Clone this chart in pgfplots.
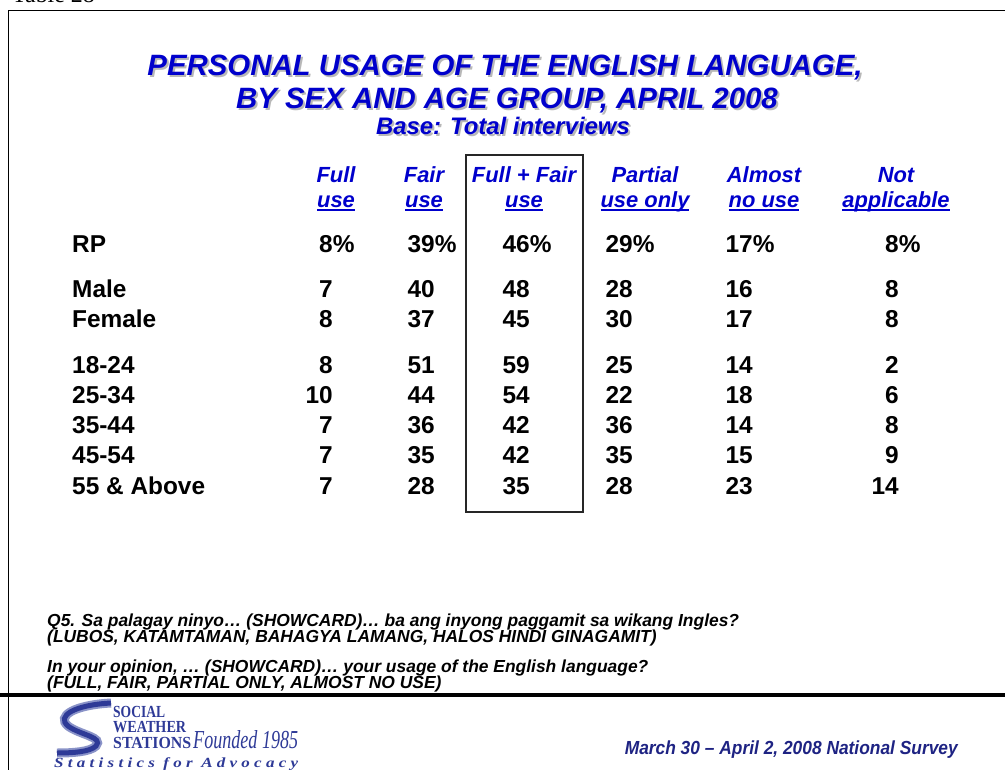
\documentclass[border=0pt]{standalone}
\usepackage{fontspec}
\setmainfont{Liberation Sans}
\newfontfamily\seriffont{Liberation Serif}
\newfontfamily\serifsp[LetterSpace=25]{Liberation Serif}
\usepackage{graphicx}
\usepackage{pgfplots}
\usepackage{pgfplotstable}
\pgfplotsset{compat=1.18}
\definecolor{tblue}{HTML}{0000CC}
\definecolor{shadowgray}{HTML}{B8B8B8}
\definecolor{navy}{HTML}{1E2383}
\definecolor{logoblue}{HTML}{2E3A97}
\definecolor{logolight}{HTML}{8A93C8}
\newcommand\ul[1]{\setbox0\hbox{#1}\rlap{\rule[-3.5bp]{\wd0}{2bp}}\box0}
\newcommand\qfont{\bfseries\itshape\fontsize{17.5}{16}\selectfont}
\newcommand\tfont{\bfseries\itshape\fontsize{29.5}{32}\selectfont}
\newcommand\bfont{\bfseries\itshape\fontsize{24}{28}\selectfont}
\newlength\qw

\pgfplotstableread{
y   c1 c2 c3 c4 c5 c6
297 7  40 48 28 16 8
327 8  37 45 30 17 8
373 8  51 59 25 14 2
403 10 44 54 22 18 6
433 7  36 42 36 14 8
463 7  35 42 35 15 9
494 7  28 35 28 23 14
}\vals

\begin{document}%
\settowidth{\qw}{\qfont Q5. Sa palagay ninyo… (SHOWCARD)… ba ang inyong paggamit sa wikang Ingles?}%
\pgfmathsetmacro{\qs}{694.5/\qw}%
\begin{tikzpicture}
\begin{axis}[
  scale only axis, width=1005bp, height=770bp,
  xmin=0, xmax=1005, ymin=0, ymax=770, y dir=reverse,
  hide axis, clip=false,
  point meta=explicit symbolic,
  nodes near coords,
  every node near coord/.append style={anchor=base east, inner sep=0pt,
     font=\bfseries\fontsize{24.5}{28}\selectfont, text=black},
]
% data columns
\addplot[draw=none, mark=none] table[x expr=333, y=y, meta=c1]{\vals};
\addplot[draw=none, mark=none] table[x expr=435, y=y, meta=c2]{\vals};
\addplot[draw=none, mark=none] table[x expr=530, y=y, meta=c3]{\vals};
\addplot[draw=none, mark=none] table[x expr=633, y=y, meta=c4]{\vals};
\addplot[draw=none, mark=none] table[x expr=753, y=y, meta=c5]{\vals};
\addplot[draw=none, mark=none] table[x expr=899, y=y, meta=c6]{\vals};
% RP row
\addplot[draw=none, mark=none] coordinates {
 (333,252) [8\rlap{\%}] (435,252) [39\rlap{\%}] (530,252) [46\rlap{\%}]
 (633,252) [29\rlap{\%}] (753,252) [17\rlap{\%}] (899,252) [8\rlap{\%}]};
% row labels
\addplot[draw=none, mark=none, every node near coord/.append style={anchor=base west}] coordinates {
 (72,252) [RP] (72,297) [Male] (72,327) [Female] (72,373) [18-24]
 (72,403) [25-34] (72,433) [35-44] (72,463) [45-54] (72,494) [55 \& Above]};

% frame
\draw[line width=1.5bp] (8.5,780) -- (8.5,10.5) -- (1015,10.5);
\draw[line width=3.5bp] (-5,695) -- (1015,695);
\node[anchor=base west, inner sep=0pt, font=\seriffont\fontsize{24}{28}\selectfont] at (12,3) {Table 28};

% title with shadow
\node[anchor=base, inner sep=0pt, text=shadowgray, font=\tfont] at (507,78) {PERSONAL USAGE OF THE ENGLISH LANGUAGE,};
\node[anchor=base, inner sep=0pt, text=shadowgray, font=\tfont] at (509,110) {BY SEX AND AGE GROUP, APRIL 2008};
\node[anchor=base, inner sep=0pt, text=shadowgray, font=\bfont] at (505,136) {Base: Total interviews};
\node[anchor=base, inner sep=0pt, text=tblue, font=\tfont] at (505,76) {PERSONAL USAGE OF THE ENGLISH LANGUAGE,};
\node[anchor=base, inner sep=0pt, text=tblue, font=\tfont] at (507,108) {BY SEX AND AGE GROUP, APRIL 2008};
\node[anchor=base, inner sep=0pt, text=tblue, font=\bfont] at (503,134) {Base: Total interviews};

% headers
\begin{scope}[every node/.style={anchor=base, inner sep=0pt, text=tblue, font=\bfseries\itshape\fontsize{22}{25}\selectfont}]
\node at (336,182) {Full};        \node at (336,207) {\ul{use}};
\node at (424,182) {Fair};        \node at (424,207) {\ul{use}};
\node at (524,182) {Full + Fair}; \node at (524,207) {\ul{use}};
\node at (645,182) {Partial};     \node at (645,207) {\ul{use only}};
\node at (764,182) {Almost};      \node at (764,207) {\ul{no use}};
\node at (896,182) {Not};         \node at (896,207) {\ul{applicable}};
\end{scope}

% box around Full + Fair
\draw[line width=1.3bp, black!85] (466,155) rectangle (583,512);

% question text
\begin{scope}[every node/.style={anchor=base west, inner sep=0pt, text=black}]
\node at (47,626) {\scalebox{\qs}[1]{\qfont Q5. Sa palagay ninyo… (SHOWCARD)… ba ang inyong paggamit sa wikang Ingles?}};
\node at (47,642) {\scalebox{\qs}[1]{\qfont (LUBOS, KATAMTAMAN, BAHAGYA LAMANG, HALOS HINDI GINAGAMIT)}};
\node at (47,672) {\scalebox{\qs}[1]{\qfont In your opinion, … (SHOWCARD)… your usage of the English language?}};
\node at (47,688) {\scalebox{\qs}[1]{\qfont (FULL, FAIR, PARTIAL ONLY, ALMOST NO USE)}};
\end{scope}

% footer
\node[anchor=base east, inner sep=0pt, text=navy] at (958,754)
  {\resizebox{333bp}{\height}{\bfseries\itshape\fontsize{19}{22}\selectfont March 30 – April 2, 2008 National Survey}};

% logo
\draw[logolight, line width=9bp] (111,703) .. controls (74,705) and (56,716) .. (68,726)
      .. controls (80,735) and (104,737) .. (96,746) .. controls (90,752) and (72,753) .. (57,753);
\draw[logoblue, line width=5bp] (111,703) .. controls (74,705) and (56,716) .. (68,726)
      .. controls (80,735) and (104,737) .. (96,746) .. controls (90,752) and (72,753) .. (57,753);
\begin{scope}[every node/.style={anchor=base west, inner sep=0pt, text=logoblue}]
\node at (113,717) {\resizebox{52bp}{\height}{\seriffont\bfseries\fontsize{17}{17}\selectfont SOCIAL}};
\node at (113,732) {\resizebox{73bp}{\height}{\seriffont\bfseries\fontsize{17}{17}\selectfont WEATHER}};
\node at (113,748) {\resizebox{78bp}{\height}{\seriffont\bfseries\fontsize{17}{17}\selectfont STATIONS}};
\node at (193,748) {\resizebox{105bp}{\height}{\seriffont\itshape\fontsize{26}{26}\selectfont Founded 1985}};
\node at (54,767) {\resizebox{244bp}{\height}{\serifsp\bfseries\itshape\fontsize{14}{14}\selectfont Statistics for Advocacy}};
\end{scope}
\end{axis}
\pgfresetboundingbox
\path[use as bounding box] (current axis.south west) rectangle (current axis.north east);
\end{tikzpicture}
\end{document}
